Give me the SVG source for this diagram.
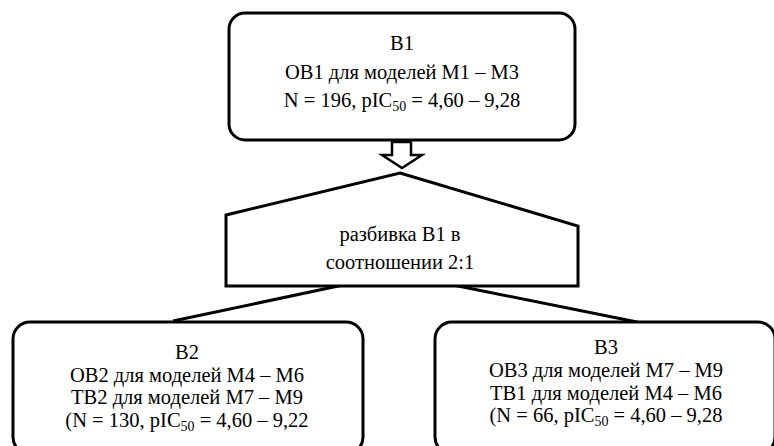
<svg xmlns="http://www.w3.org/2000/svg" width="774" height="446" viewBox="0 0 774 446">
<style>
.box{fill:#fff;stroke:#000;stroke-width:3}
.con{fill:none;stroke:#000;stroke-width:3}
.arr{fill:#fff;stroke:#000;stroke-width:2.5;stroke-linejoin:miter}
.t{font-family:'Liberation Serif','Times New Roman','DejaVu Serif',serif;font-size:20.5px;fill:#000;text-anchor:middle}
.sub{font-size:14px}
</style>
<rect width="774" height="446" fill="#fff"/>
<g id="connectors">
<line class="con" x1="343" y1="285" x2="173" y2="321"/>
<line class="con" x1="453" y1="285" x2="637" y2="322"/>
<polygon class="arr" points="392,142 411,142 411,155 422,155 402,168 382,155 392,155"/>
</g>
<g id="B1">
<rect class="box" x="229" y="13" width="346" height="127" rx="16" ry="16"/>
<g class="t" font-family="Liberation Serif, serif">
<text x="402" y="50">B1</text>
<text x="402" y="79">OB1 для моделей M1 – M3</text>
<text x="402" y="107">N = 196, pIC<tspan class="sub" dy="4">50</tspan><tspan dy="-4"> = 4,60 – 9,28</tspan></text>
</g>
</g>
<g id="split">
<polygon class="box" points="400,173 578,226 578,286 226,286 226,215"/>
<g class="t" font-family="Liberation Serif, serif">
<text x="400" y="241">разбивка B1 в</text>
<text x="400" y="269">соотношении 2:1</text>
</g>
</g>
<g id="B2">
<rect class="box" x="13" y="322" width="350" height="132" rx="17" ry="17"/>
<g class="t" font-family="Liberation Serif, serif">
<text x="187" y="359">B2</text>
<text x="187" y="382">OB2 для моделей M4 – M6</text>
<text x="187" y="404">TB2 для моделей M7 – M9</text>
<text x="187" y="427">(N = 130, pIC<tspan class="sub" dy="4">50</tspan><tspan dy="-4"> = 4,60 – 9,22</tspan></text>
</g>
</g>
<g id="B3">
<rect class="box" x="435" y="322" width="340" height="132" rx="17" ry="17"/>
<g class="t" font-family="Liberation Serif, serif">
<text x="606" y="354">B3</text>
<text x="606" y="377">OB3 для моделей M7 – M9</text>
<text x="606" y="400">TB1 для моделей M4 – M6</text>
<text x="606" y="422">(N = 66, pIC<tspan class="sub" dy="4">50</tspan><tspan dy="-4"> = 4,60 – 9,28</tspan></text>
</g>
</g>
</svg>
